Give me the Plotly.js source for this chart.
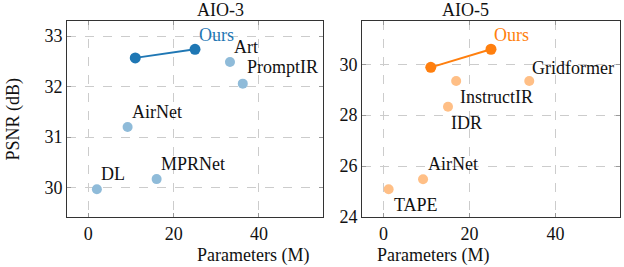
<!DOCTYPE html>
<html>
<head>
<meta charset="utf-8">
<script src="https://cdn.plot.ly/plotly-3.0.1.min.js"></script>
<style>html,body{margin:0;padding:0;background:#fff}#chart{width:624px;height:267px}</style>
</head>
<body>
<div id="chart"></div>
<script>
// AIO-3 data
const a3OursX = [11, 25];
const a3OursY = [32.57, 32.74];
const a3Names = ["Art", "PromptIR", "AirNet", "MPRNet", "DL"];
const a3X = [33.2, 36.2, 9.2, 16.0, 2.0];
const a3Y = [32.49, 32.06, 31.2, 30.17, 29.97];

// AIO-5 data
const a5OursX = [11, 25];
const a5OursY = [29.88, 30.59];
const a5Names = ["InstructIR", "Gridformer", "IDR", "AirNet", "TAPE"];
const a5X = [16.9, 33.9, 15.0, 9.2, 1.2];
const a5Y = [29.34, 29.34, 28.33, 25.48, 25.09];

const titles = ["AIO-3", "AIO-5"];
const xTitle = "Parameters (M)";
const yTitle = "PSNR (dB)";
const oursLabel = "Ours";

const FONT = "Liberation Serif";
const BLUE = "#1f77b4", LBLUE = "#8fbbd9";
const ORANGE = "#ff7f0e", LORANGE = "#ffbf86";

const traces = [
  {x: a3X, y: a3Y, mode: "markers", type: "scatter", xaxis: "x", yaxis: "y",
   marker: {color: LBLUE, size: 10}},
  {x: a3OursX, y: a3OursY, mode: "lines+markers", type: "scatter", xaxis: "x", yaxis: "y",
   line: {color: BLUE, width: 2}, marker: {color: BLUE, size: 11}},
  {x: a5X, y: a5Y, mode: "markers", type: "scatter", xaxis: "x2", yaxis: "y2",
   marker: {color: LORANGE, size: 10}},
  {x: a5OursX, y: a5OursY, mode: "lines+markers", type: "scatter", xaxis: "x2", yaxis: "y2",
   line: {color: ORANGE, width: 2}, marker: {color: ORANGE, size: 11}}
];

// label placement: [dx px, dy px, yanchor]
const a3Place = {"Art": [2, 3, "bottom"], "PromptIR": [2, 5, "bottom"], "AirNet": [2, 3, "bottom"],
                 "MPRNet": [2, 3, "bottom"], "DL": [2, 3, "bottom"]};
const a5Place = {"InstructIR": [2, -4, "top"], "Gridformer": [1, 1, "bottom"], "IDR": [1, -4, "top"],
                 "AirNet": [3, 3, "bottom"], "TAPE": [3, -4, "top"]};

const TXT = {family: FONT, size: 18, color: "#111"};
const ann = [];
a3Names.forEach((n, i) => {
  const p = a3Place[n];
  ann.push({xref: "x", yref: "y", x: a3X[i], y: a3Y[i], text: n, showarrow: false,
    xanchor: "left", yanchor: p[2], xshift: p[0], yshift: p[1], font: TXT});
});
a5Names.forEach((n, i) => {
  const p = a5Place[n];
  ann.push({xref: "x2", yref: "y2", x: a5X[i], y: a5Y[i], text: n, showarrow: false,
    xanchor: "left", yanchor: p[2], xshift: p[0], yshift: p[1], font: TXT});
});
ann.push({xref: "x", yref: "y", x: a3OursX[1], y: a3OursY[1], text: oursLabel, showarrow: false,
  xanchor: "left", yanchor: "bottom", xshift: 2, yshift: 2, font: {family: FONT, size: 18, color: BLUE}});
ann.push({xref: "x2", yref: "y2", x: a5OursX[1], y: a5OursY[1], text: oursLabel, showarrow: false,
  xanchor: "left", yanchor: "bottom", xshift: 1, yshift: 2, font: {family: FONT, size: 18, color: ORANGE}});
// titles
const d1 = [0.1074, 0.5176], d2 = [0.5801, 0.9936], dy = [0.1873, 0.9213];
ann.push({xref: "paper", yref: "paper", x: (d1[0]+d1[1])/2, y: 1, yanchor: "top", yshift: 2, text: titles[0], showarrow: false, font: TXT});
ann.push({xref: "paper", yref: "paper", x: (d2[0]+d2[1])/2, y: 1, yanchor: "top", yshift: 2, text: titles[1], showarrow: false, font: TXT});
ann.push({xref: "paper", yref: "paper", x: (d1[0]+d1[1])/2, y: 0, yanchor: "bottom", yshift: -1, text: xTitle, showarrow: false, font: TXT});
ann.push({xref: "paper", yref: "paper", x: (d2[0]+d2[1])/2, y: 0, yanchor: "bottom", yshift: -1, text: xTitle, showarrow: false, font: TXT});
ann.push({xref: "paper", yref: "paper", x: 0, xanchor: "left", xshift: 1, y: (dy[0]+dy[1])/2, text: yTitle, showarrow: false,
  textangle: -90, font: TXT});

const axBase = {
  showline: true, mirror: "allticks", linecolor: "#333", linewidth: 1,
  ticks: "inside", ticklen: 4, tickcolor: "#999", tickwidth: 1,
  showgrid: true, gridcolor: "#cccccc", griddash: "dash", gridwidth: 1,
  zeroline: false, tickfont: TXT
};

const layout = {
  width: 624, height: 267, margin: {l: 0, r: 0, t: 0, b: 0},
  paper_bgcolor: "#fff", plot_bgcolor: "#fff", showlegend: false,
  font: {family: FONT, color: "#111"},
  xaxis: Object.assign({}, axBase, {domain: d1, range: [-5, 55], tickvals: [0, 20, 40], anchor: "y"}),
  yaxis: Object.assign({}, axBase, {domain: dy, range: [29.42, 33.3], tickvals: [30, 31, 32, 33], anchor: "x"}),
  xaxis2: Object.assign({}, axBase, {domain: d2, range: [-5, 55], tickvals: [0, 20, 40], anchor: "y2"}),
  yaxis2: Object.assign({}, axBase, {domain: dy, range: [24, 31.7], tickvals: [24, 26, 28, 30], anchor: "x2"}),
  annotations: ann
};

Plotly.newPlot("chart", traces, layout, {staticPlot: true, displayModeBar: false});
</script>
</body>
</html>
